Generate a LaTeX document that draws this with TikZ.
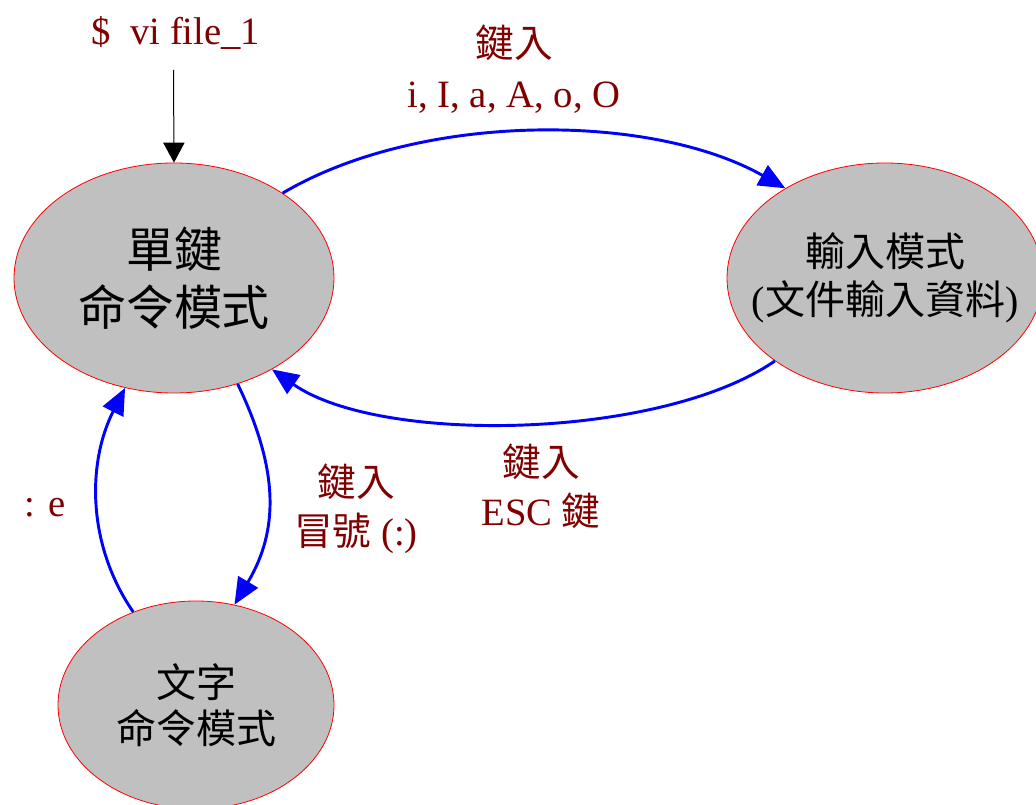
\documentclass[tikz,border=0pt]{standalone}
\usepackage{fontspec}
\setmainfont{Liberation Serif}
\newfontfamily\cjk{Noto Sans CJK TC}
\usetikzlibrary{shapes.geometric,arrows.meta}
\definecolor{lblred}{HTML}{800000}
\definecolor{fillgray}{HTML}{C0C0C0}
\begin{document}
\begin{tikzpicture}[x=0.75pt,y=-0.75pt,
  state/.style={ellipse, draw=red, line width=0.6pt, fill=fillgray, inner sep=-25pt, align=center, text=black},
  lbl/.style={text=lblred, align=center, font=\fontsize{29}{37}\selectfont, inner sep=0pt},
  flow/.style={draw=blue, line width=2.2pt, -{Triangle[length=20pt,width=17pt]}},
  entry/.style={draw=black, line width=0.75pt, -{Triangle[length=15pt,width=16pt]}}
]
\useasboundingbox (0,0) rectangle (1036,805);

\node[state, minimum width=240pt, minimum height=172.5pt, font=\cjk\fontsize{36}{44}\selectfont] (s1) at (174,278) {單鍵\\命令模式};
\node[state, minimum width=237pt, minimum height=172.5pt, font=\cjk\fontsize{30}{36}\selectfont] (s2) at (885,278) {輸入模式\\{\rmfamily (}文件輸入資料{\rmfamily )}};
\node[state, minimum width=207pt, minimum height=156pt, font=\cjk\fontsize{30}{34.5}\selectfont] (s3) at (196,705) {文字\\命令模式};

\node[lbl, anchor=base] (vi) at (176,45) {\$\ \ vi file\_1};
\coordinate (vistart) at (173.5,70);
\draw[entry] (vistart) -- (s1.north);

\node[lbl] (l1) at (514,69) {{\cjk 鍵入}\\i, I, a, A, o, O};
\node[lbl] (l2) at (541,486) {{\cjk 鍵入}\\ESC {\cjk 鍵}};
\node[lbl] (l3) at (356,509) {{\cjk 鍵入}\\{\cjk 冒號} (:)};
\node[lbl, anchor=base] (l4) at (45,517) {: e};

\draw[flow] (s1.38.2) .. controls (420,112) and (650,112) .. (s2.138.6);
\draw[flow] (s2.217.5) .. controls (660,440) and (380,445) .. (s1.317.1);
\draw[flow] (s1.301.4) .. controls (279,470) and (279,530) .. (s3.69);
\draw[flow] (s3.124.8) .. controls (87,545) and (87,463) .. (s1.246.4);
\end{tikzpicture}
\end{document}
